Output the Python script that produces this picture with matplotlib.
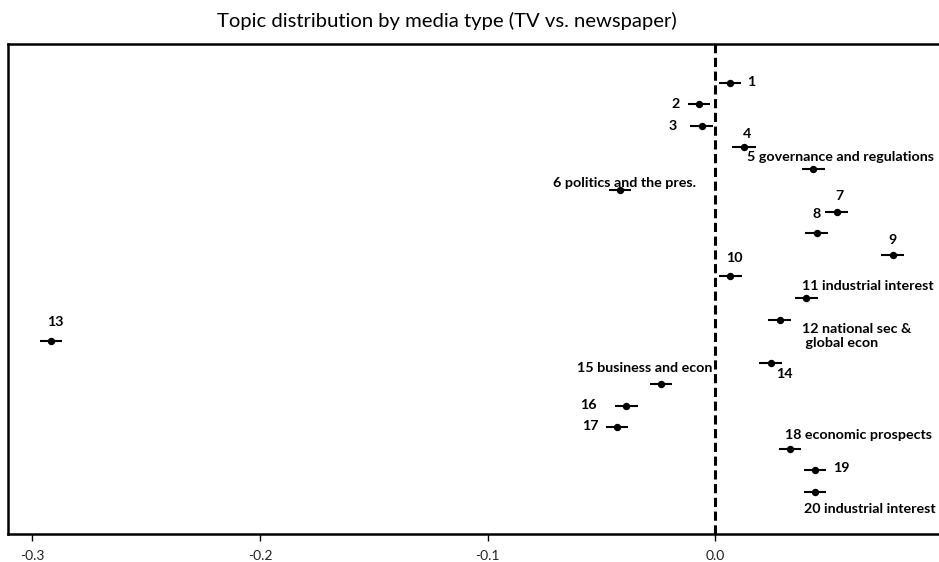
import numpy as np
import matplotlib
matplotlib.use("Agg")
from matplotlib import pyplot as plt

# difference in topic prevalence (newspaper - TV), point estimate and CI half-width
topics = list(range(1, 21))
estimate = [0.0064, -0.0072, -0.0061, 0.0125, 0.0430, -0.0419, 0.0532, 0.0444, 0.0778, 0.0065,
            0.0399, 0.0282, -0.2918, 0.0242, -0.0239, -0.0392, -0.0433, 0.0327, 0.0437, 0.0437]
half_ci = [0.0050, 0.0050, 0.0050, 0.0051, 0.0050, 0.0050, 0.0050, 0.0050, 0.0051, 0.0050,
           0.0050, 0.0050, 0.0050, 0.0050, 0.0050, 0.0050, 0.0050, 0.0050, 0.0050, 0.0050]
labels = ["1", "2", "3", "4", "5 governance and regulations", "6 politics and the pres.",
          "7", "8", "9", "10", "11 industrial interest", "12 national sec &\n global econ",
          "13", "14", "15 business and econ", "16", "17", "18 economic prospects",
          "19", "20 industrial interest"]
tick_vals = [-0.3, -0.2, -0.1, 0.0]
tick_labels = ["-0.3", "-0.2", "-0.1", "0.0"]

# label placement: offset in pixels from the point (x right, y down), alignment
label_pos = {
    1: (17, -1, "left"), 2: (-19, 0, "right"), 3: (-25, 0, "right"), 4: (3, -13, "center"),
    5: (-66, -12, "left"), 6: (76, -7, "right"), 7: (3, -16, "center"), 8: (0, -19, "center"),
    9: (0, -15, "center"), 10: (4, -18, "center"), 11: (-4, -12, "left"), 12: (22, 16, "left"),
    13: (4, -19, "center"), 14: (14, 11, "center"), 15: (51, -16, "right"), 16: (-29, -1, "right"),
    17: (-18, -1, "right"), 18: (-5, -14, "left"), 19: (18, -2, "left"), 20: (-11, 17, "left"),
}

W, H = 939, 562
fig = plt.figure(figsize=(W / 100, H / 100), dpi=100)
ax = fig.add_axes([8 / W, (H - 533.5) / H, 932 / W, (533.5 - 44) / H])

ax.errorbar(estimate, topics, xerr=half_ci, fmt="o", color="black", ms=4.3,
            elinewidth=1.5, capsize=0, zorder=3)
ax.axvline(0, color="black", lw=2.2, ls=(0, (3, 1.5)), zorder=2)

for t, x, lab in zip(topics, estimate, labels):
    dx, dy, ha = label_pos[t]
    ax.annotate(lab, (x, t), xytext=(dx, -dy), textcoords="offset pixels",
                ha=ha, va="center", fontsize=10.3, fontweight="bold",
                family="Lato", linespacing=1.2, annotation_clip=False)

ax.set_xlim(-0.3107, 0.0986)
ax.set_ylim(21.94, -0.8)
ax.set_yticks([])
ax.set_xticks(tick_vals)
ax.set_xticklabels(tick_labels, family="Lato", fontsize=10, color="#222222")
ax.tick_params(axis="x", length=5, width=1, pad=7)
for s in ax.spines.values():
    s.set_linewidth(1.8)

fig.text(447 / W, 1 - 21 / H, "Topic distribution by media type (TV vs. newspaper)",
         ha="center", va="center", fontsize=14.6, family="Lato")

fig.savefig("out.png", dpi=100)
